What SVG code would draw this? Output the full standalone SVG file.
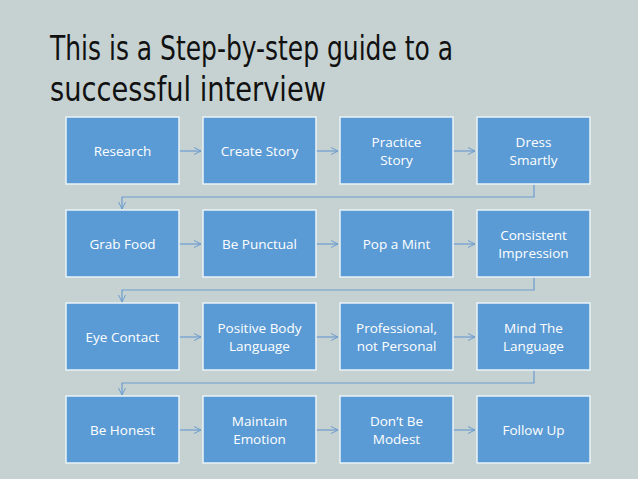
<svg xmlns="http://www.w3.org/2000/svg" width="638" height="479" viewBox="0 0 638 479">
<defs>
<marker id="a" markerWidth="10" markerHeight="10" refX="8" refY="4" orient="auto" markerUnits="userSpaceOnUse"><path d="M1,0.5 L8,4 L1,7.5" fill="none" stroke="#6d9ccf" stroke-width="1"/></marker>
<style>
.b{fill:#5b9bd5;stroke:#eaf3f8;stroke-width:1.5}
.t{font-family:"Open Sans","Liberation Sans",sans-serif;font-size:13.5px;fill:#fff;text-anchor:middle}
.c{fill:none;stroke:#6d9ccf;stroke-width:1.2}
.h{font-family:"DejaVu Sans Condensed","DejaVu Sans",sans-serif;font-size:34px;fill:#111;font-stretch:condensed}
</style>
</defs>
<rect width="638" height="479" fill="#c6d2d2"/>
<text class="h" x="50" y="60" textLength="403" lengthAdjust="spacingAndGlyphs">This is a Step-by-step guide to a</text>
<text class="h" x="50" y="101" textLength="276" lengthAdjust="spacingAndGlyphs">successful interview</text>
<g id="connectors">
<path class="c" d="M179,151 H201" marker-end="url(#a)"/>
<path class="c" d="M316,151 H338" marker-end="url(#a)"/>
<path class="c" d="M453,151 H475" marker-end="url(#a)"/>
<path class="c" d="M534,184 V197 H122 V209" marker-end="url(#a)"/>
<path class="c" d="M179,244 H201" marker-end="url(#a)"/>
<path class="c" d="M316,244 H338" marker-end="url(#a)"/>
<path class="c" d="M453,244 H475" marker-end="url(#a)"/>
<path class="c" d="M534,277 V290 H122 V302" marker-end="url(#a)"/>
<path class="c" d="M179,337 H201" marker-end="url(#a)"/>
<path class="c" d="M316,337 H338" marker-end="url(#a)"/>
<path class="c" d="M453,337 H475" marker-end="url(#a)"/>
<path class="c" d="M534,370 V383 H122 V395" marker-end="url(#a)"/>
<path class="c" d="M179,430 H201" marker-end="url(#a)"/>
<path class="c" d="M316,430 H338" marker-end="url(#a)"/>
<path class="c" d="M453,430 H475" marker-end="url(#a)"/>
</g>
<g id="n1"><rect class="b" x="66" y="117" width="113" height="67"/><text class="t" x="122.5" y="156">Research</text></g>
<g id="n2"><rect class="b" x="203" y="117" width="113" height="67"/><text class="t" x="259.5" y="156">Create Story</text></g>
<g id="n3"><rect class="b" x="340" y="117" width="113" height="67"/><text class="t" x="396.5" y="147">Practice</text><text class="t" x="396.5" y="165">Story</text></g>
<g id="n4"><rect class="b" x="477" y="117" width="113" height="67"/><text class="t" x="533.5" y="147">Dress</text><text class="t" x="533.5" y="165">Smartly</text></g>
<g id="n5"><rect class="b" x="66" y="210" width="113" height="67"/><text class="t" x="122.5" y="249">Grab Food</text></g>
<g id="n6"><rect class="b" x="203" y="210" width="113" height="67"/><text class="t" x="259.5" y="249">Be Punctual</text></g>
<g id="n7"><rect class="b" x="340" y="210" width="113" height="67"/><text class="t" x="396.5" y="249">Pop a Mint</text></g>
<g id="n8"><rect class="b" x="477" y="210" width="113" height="67"/><text class="t" x="533.5" y="240">Consistent</text><text class="t" x="533.5" y="258">Impression</text></g>
<g id="n9"><rect class="b" x="66" y="303" width="113" height="67"/><text class="t" x="122.5" y="342">Eye Contact</text></g>
<g id="n10"><rect class="b" x="203" y="303" width="113" height="67"/><text class="t" x="259.5" y="333">Positive Body</text><text class="t" x="259.5" y="351">Language</text></g>
<g id="n11"><rect class="b" x="340" y="303" width="113" height="67"/><text class="t" x="396.5" y="333">Professional,</text><text class="t" x="396.5" y="351">not Personal</text></g>
<g id="n12"><rect class="b" x="477" y="303" width="113" height="67"/><text class="t" x="533.5" y="333">Mind The</text><text class="t" x="533.5" y="351">Language</text></g>
<g id="n13"><rect class="b" x="66" y="396" width="113" height="67"/><text class="t" x="122.5" y="435">Be Honest</text></g>
<g id="n14"><rect class="b" x="203" y="396" width="113" height="67"/><text class="t" x="259.5" y="426">Maintain</text><text class="t" x="259.5" y="444">Emotion</text></g>
<g id="n15"><rect class="b" x="340" y="396" width="113" height="67"/><text class="t" x="396.5" y="426">Don’t Be</text><text class="t" x="396.5" y="444">Modest</text></g>
<g id="n16"><rect class="b" x="477" y="396" width="113" height="67"/><text class="t" x="533.5" y="435">Follow Up</text></g>
</svg>
